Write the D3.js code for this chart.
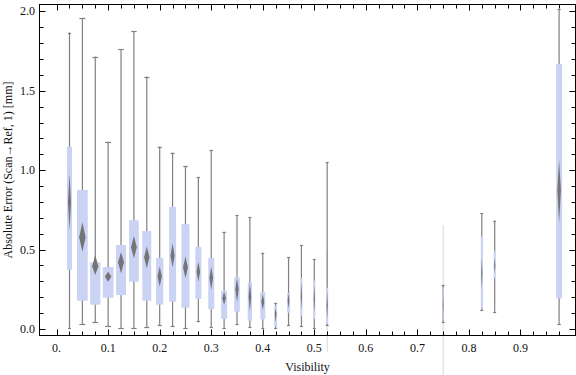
<!DOCTYPE html>
<html>
<head>
<meta charset="utf-8">
<script src="https://cdn.jsdelivr.net/npm/d3@7"></script>
<style>
  html, body { margin: 0; padding: 0; background: #fff; }
  svg { display: block; }
</style>
</head>
<body>
<div id="chart"></div>
<script>
// values
const visibility = [0.025, 0.05, 0.075, 0.1, 0.125, 0.15, 0.175, 0.2, 0.225, 0.25,
  0.275, 0.3, 0.325, 0.35, 0.375, 0.4, 0.425, 0.45, 0.475, 0.5, 0.525, 0.75, 0.825, 0.85, 0.975];
const whiskerMax = [1.867, 1.958, 1.716, 1.18, 1.762, 1.876, 1.59, 1.149, 1.111, 1.025,
  0.956, 1.126, 0.613, 0.716, 0.704, 0.481, 0.166, 0.452, 0.527, 0.441, 1.052, 0.277, 0.729, 0.683, 2.015];
const quartile3 = [1.147, 0.876, 0.42, 0.39, 0.529, 0.685, 0.617, 0.447, 0.769, 0.66,
  0.517, 0.447, 0.239, 0.326, 0.294, 0.231, 0.147, 0.227, 0.323, 0.304, 0.26, 0.26, 0.582, 0.491, 1.67];
const medians = [0.80, 0.578, 0.393, 0.33, 0.42, 0.515, 0.452, 0.33, 0.462, 0.389,
  0.361, 0.323, 0.193, 0.25, 0.204, 0.172, 0.095, 0.178, 0.204, 0.19, 0.15, 0.15, 0.35, 0.40, 0.876];
const quartile1 = [0.372, 0.178, 0.153, 0.197, 0.214, 0.298, 0.178, 0.153, 0.172, 0.134,
  0.189, 0.126, 0.063, 0.109, 0.052, 0.061, 0.015, 0.103, 0.082, 0.065, 0.032, 0.06, 0.13, 0.319, 0.193];
const whiskerMin = [0.004, 0.03, 0.042, 0.019, 0.004, 0.004, 0.013, 0.025, 0.019, 0.004,
  0.05, 0.011, 0.004, 0.03, 0.011, 0.004, 0.004, 0.023, 0.019, 0.004, 0.023, 0.046, 0.12, 0.109, 0.03];
const notchHigh = [0.98, 0.672, 0.466, 0.361, 0.483, 0.586, 0.519, 0.393, 0.54, 0.456,
  0.424, 0.393, 0.235, 0.319, 0.288, 0.22, 0.13, 0.225, 0.3, 0.28, 0.24, 0.2, 0.45, 0.45, 1.065];
const notchLow = [0.62, 0.487, 0.34, 0.298, 0.351, 0.445, 0.382, 0.267, 0.389, 0.319,
  0.298, 0.246, 0.151, 0.172, 0.109, 0.12, 0.046, 0.13, 0.12, 0.1, 0.06, 0.1, 0.25, 0.35, 0.666];
// relative sample weight per bin (drives box width)
const binWeight = [0.47, 1, 0.96, 1, 0.93, 0.9, 0.84, 0.68, 0.65, 0.75,
  0.56, 0.56, 0.56, 0.53, 0.4, 0.47, 0.28, 0.28, 0.19, 0.19, 0.19, 0.09, 0.19, 0.19, 0.56];
// faint leftover strokes visible in the picture: [visibility, top, bottom]
const ghostLines = [[0.525, 0.498, -0.145], [0.75, 0.655, -0.29]];

const xTicks = [0, 0.1, 0.2, 0.3, 0.4, 0.5, 0.6, 0.7, 0.8, 0.9];
const xTickLabels = ["0.", "0.1", "0.2", "0.3", "0.4", "0.5", "0.6", "0.7", "0.8", "0.9"];
const yTicks = [0, 0.5, 1, 1.5, 2];
const yTickLabels = ["0.0", "0.5", "1.0", "1.5", "2.0"];

const width = 576, height = 375;
const frame = {left: 39.5, right: 575.5, top: 4.5, bottom: 335.5};

const x = d3.scaleLinear().domain([-0.0332, 1.0068]).range([frame.left, frame.right]);
const y = d3.scaleLinear().domain([-0.041, 2.044]).range([frame.bottom, frame.top]);
const boxW = d3.scaleLinear().domain([0, 1]).range([0, 10.7]);

const bins = visibility.map((v, i) => ({
  v, max: whiskerMax[i], q3: quartile3[i], med: medians[i], q1: quartile1[i],
  min: whiskerMin[i], hi: notchHigh[i], lo: notchLow[i], w: boxW(binWeight[i])
}));

const svg = d3.select("#chart").append("svg")
    .attr("width", width)
    .attr("height", height)
    .style("font-family", "'Liberation Serif', 'DejaVu Serif', serif");

svg.append("defs").append("filter")
    .attr("id", "soft")
    .attr("x", "-50%").attr("y", "-20%").attr("width", "200%").attr("height", "140%")
  .append("feGaussianBlur")
    .attr("stdDeviation", 0.4);

// ghost strokes
svg.append("g")
    .attr("stroke", "#d8d8d8")
    .attr("stroke-width", 1)
  .selectAll("line")
  .data(ghostLines)
  .join("line")
    .attr("x1", d => x(d[0])).attr("x2", d => x(d[0]))
    .attr("y1", d => y(d[1])).attr("y2", d => y(d[2]));

const gBox = svg.append("g");

const box = gBox.selectAll("g")
  .data(bins)
  .join("g")
    .attr("transform", d => `translate(${x(d.v)},0)`);

box.append("line")
    .attr("stroke", "#808080")
    .attr("stroke-width", 1.2)
    .attr("y1", d => y(d.min))
    .attr("y2", d => y(d.max));

box.selectAll("line.cap")
  .data(d => [{y: d.max, w: d.w}, {y: d.min, w: d.w}])
  .join("line")
    .attr("class", "cap")
    .attr("stroke", "#808080")
    .attr("stroke-width", 1.2)
    .attr("x1", d => -Math.max(1.5, d.w * 0.28))
    .attr("x2", d => Math.max(1.5, d.w * 0.28))
    .attr("y1", d => Math.round(y(d.y)) + 0.5)
    .attr("y2", d => Math.round(y(d.y)) + 0.5);

box.append("rect")
    .attr("fill", "rgb(203,211,244)")
    .attr("x", d => -d.w / 2)
    .attr("width", d => d.w)
    .attr("y", d => y(d.q3))
    .attr("height", d => y(d.q1) - y(d.q3));

box.append("path")
    .attr("fill", "#747474")
    .attr("filter", "url(#soft)")
    .attr("d", d => {
      const hw = d.w * 0.3;
      return `M0,${y(d.hi)}L${hw},${y(d.med)}L0,${y(d.lo)}L${-hw},${y(d.med)}Z`;
    });

// frame and ticks
const gFrame = svg.append("g")
    .attr("stroke", "#000")
    .attr("stroke-width", 1)
    .attr("fill", "none");

gFrame.append("rect")
    .attr("x", frame.left)
    .attr("y", frame.top)
    .attr("width", frame.right - frame.left)
    .attr("height", frame.bottom - frame.top);

const xMinor = d3.range(0, 1.0, 0.025);
const yMinor = d3.range(0, 2.05, 0.1);
const isMajorX = v => Math.abs(v * 10 - Math.round(v * 10)) < 1e-6;
const isMajorY = v => Math.abs(v * 2 - Math.round(v * 2)) < 1e-6;

gFrame.selectAll("line.xt")
  .data(xMinor)
  .join("line")
    .attr("class", "xt")
    .attr("x1", d => Math.round(x(d)) + 0.5).attr("x2", d => Math.round(x(d)) + 0.5)
    .attr("y1", frame.bottom)
    .attr("y2", d => frame.bottom - (isMajorX(d) ? 6 : 4));

gFrame.selectAll("line.xtt")
  .data(xMinor)
  .join("line")
    .attr("class", "xtt")
    .attr("x1", d => Math.round(x(d)) + 0.5).attr("x2", d => Math.round(x(d)) + 0.5)
    .attr("y1", frame.top)
    .attr("y2", d => frame.top + (isMajorX(d) ? 6 : 4));

gFrame.selectAll("line.yt")
  .data(yMinor)
  .join("line")
    .attr("class", "yt")
    .attr("y1", d => Math.round(y(d)) + 0.5).attr("y2", d => Math.round(y(d)) + 0.5)
    .attr("x1", frame.left)
    .attr("x2", d => frame.left + (isMajorY(d) ? 6 : 4));

gFrame.selectAll("line.ytr")
  .data(yMinor)
  .join("line")
    .attr("class", "ytr")
    .attr("y1", d => Math.round(y(d)) + 0.5).attr("y2", d => Math.round(y(d)) + 0.5)
    .attr("x1", frame.right)
    .attr("x2", d => frame.right - (isMajorY(d) ? 6 : 4));

// tick labels
svg.append("g")
    .attr("font-size", 12)
    .attr("fill", "#111")
    .attr("text-anchor", "middle")
  .selectAll("text")
  .data(xTicks)
  .join("text")
    .attr("x", d => x(d))
    .attr("y", 352)
    .text((d, i) => xTickLabels[i]);

svg.append("g")
    .attr("font-size", 12)
    .attr("fill", "#111")
    .attr("text-anchor", "end")
  .selectAll("text")
  .data(yTicks)
  .join("text")
    .attr("x", 35)
    .attr("y", d => y(d) + 4)
    .text((d, i) => yTickLabels[i]);

// axis titles
svg.append("text")
    .attr("x", (frame.left + frame.right) / 2)
    .attr("y", 371)
    .attr("text-anchor", "middle")
    .attr("font-size", 12)
    .attr("fill", "#111")
    .text("Visibility");

svg.append("text")
    .attr("transform", `translate(12,${(frame.top + frame.bottom) / 2}) rotate(-90)`)
    .attr("text-anchor", "middle")
    .attr("font-size", 12)
    .attr("fill", "#111")
    .text("Absolute Error (Scan\u2192Ref, 1) [mm]");
</script>
</body>
</html>
